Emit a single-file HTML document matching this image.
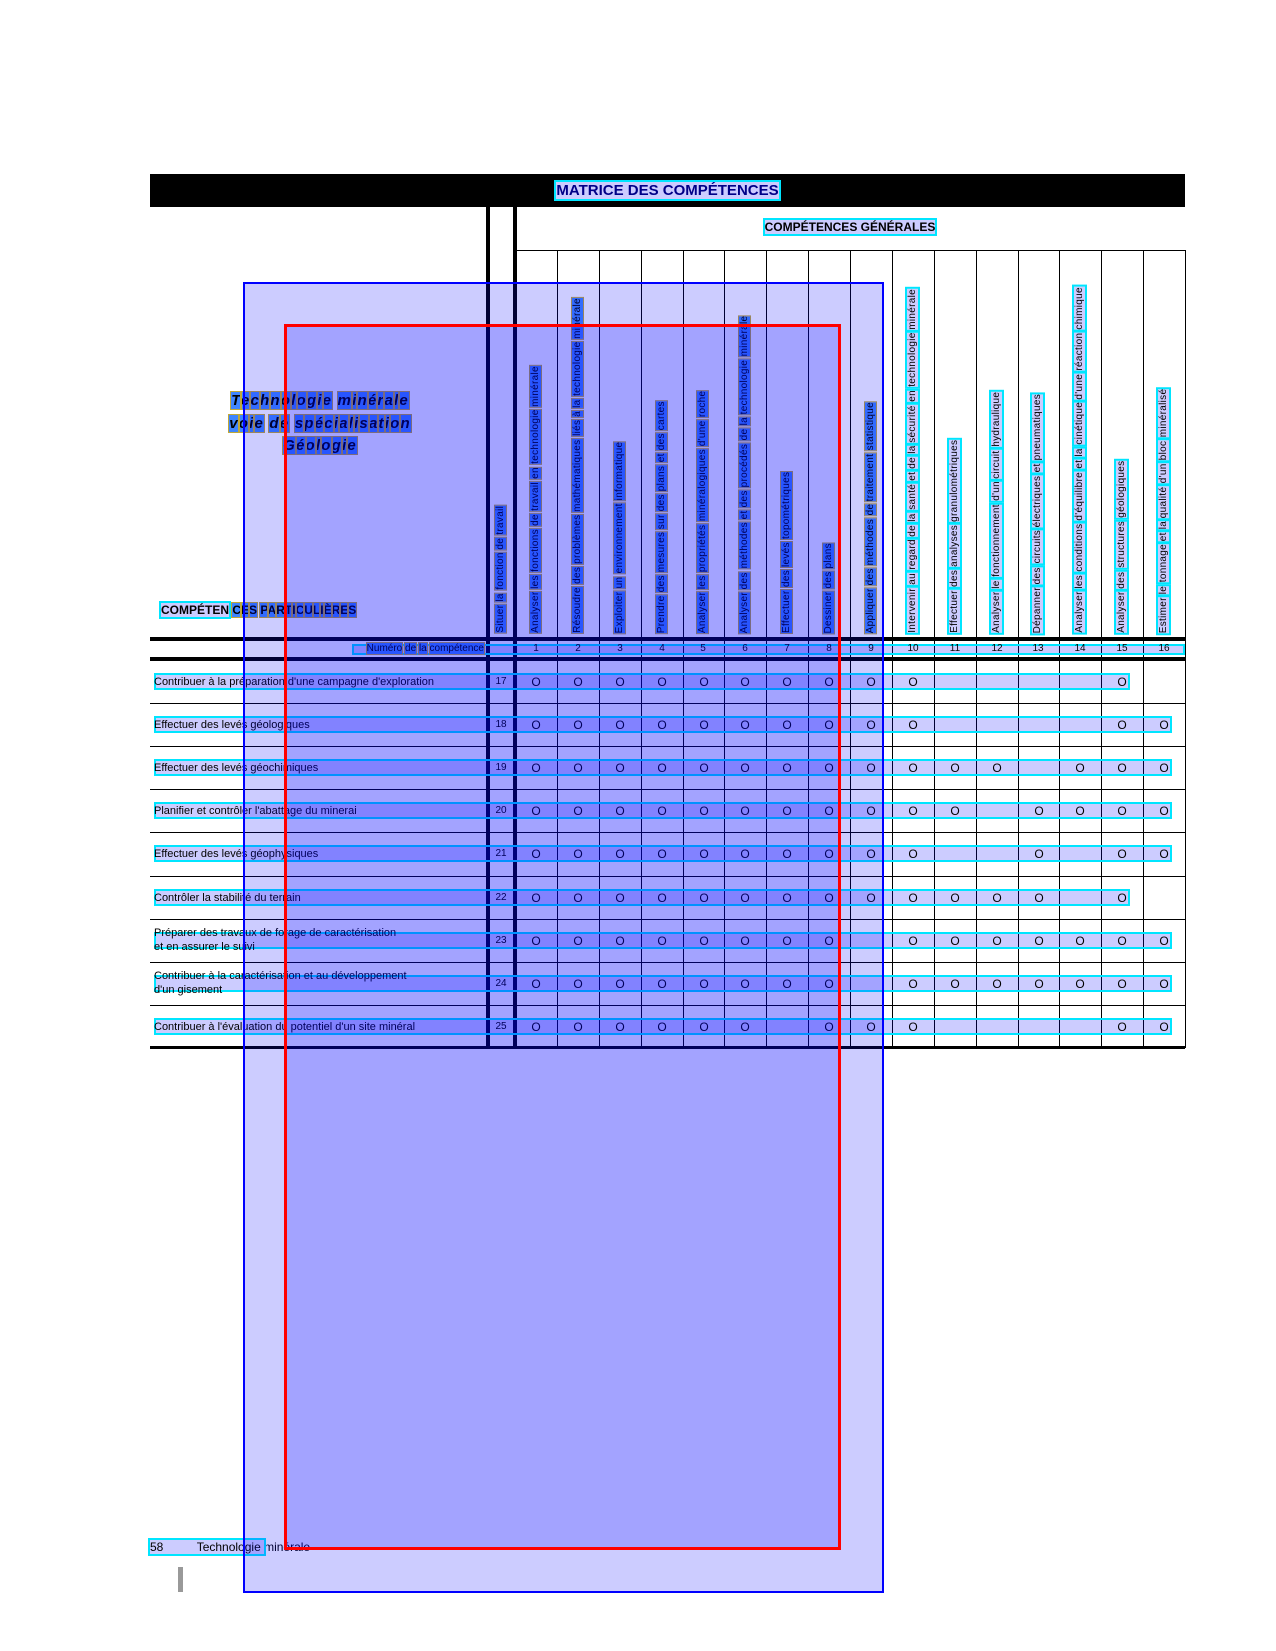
<!DOCTYPE html>
<html><head><meta charset="utf-8">
<style>
*{margin:0;padding:0;box-sizing:border-box}
body{width:1276px;height:1651px;background:#fff;position:relative;overflow:hidden;font-family:"Liberation Sans",sans-serif;color:#000}
.a{position:absolute}
.hl{position:absolute;background:#000}
.vl{position:absolute;background:#000}
.vh{position:absolute;writing-mode:vertical-rl;transform:rotate(180deg);font-size:10px;line-height:12px;white-space:nowrap;letter-spacing:0.3px}
.num{position:absolute;font-size:10px;width:42px;text-align:center;line-height:12px}
.o{position:absolute;font-size:12px;width:42px;text-align:center;line-height:14px}
.rt{position:absolute;left:154px;font-size:11px;line-height:14px;white-space:nowrap}
.band{position:absolute;border:2px solid #00e5ff;background:rgba(0,0,255,0.2)}
.w{background:#3f86ff;outline:1px solid #c0a838}
.c{outline:2px solid #00e5ff;background:#ccccff}
</style></head><body>

<div class="a" style="left:150px;top:174px;width:1035px;height:33px;background:#000"></div>
<div class="a" style="left:150px;top:182px;width:1035px;text-align:center;color:#fff;font-weight:bold;font-size:15px;line-height:17px"><span style="outline:2px solid #00e5ff;background:#ccccff;color:#000088">MATRICE DES COMPÉTENCES</span></div>

<div class="a" style="left:515px;top:220px;width:670px;text-align:center;font-weight:bold;font-size:12px;line-height:14px"><span class="c">COMPÉTENCES GÉNÉRALES</span></div>
<div class="hl" style="left:515px;top:250px;width:670px;height:1px"></div>

<div class="vl" style="left:486px;top:207px;width:4px;height:841px"></div>
<div class="vl" style="left:513px;top:207px;width:4px;height:841px"></div>

<div id="cols"></div>

<div class="hl" style="left:150px;top:637px;width:1035px;height:4px"></div>
<div class="hl" style="left:150px;top:657px;width:1035px;height:4px"></div>
<div class="hl" style="left:150px;top:1046px;width:1035px;height:3px"></div>
<div id="rows"></div>

<div class="a" id="ttl" style="left:190px;top:390px;width:260px;text-align:center;font-style:italic;font-weight:bold;font-size:15px;line-height:22.5px;letter-spacing:1.2px">Technologie minérale<br>voie de spécialisation<br>Géologie</div>
<div class="a" style="left:161px;top:603px;font-weight:bold;font-size:12px;line-height:14px"><span class="c">COMPÉTEN</span><span id="cp">CES PARTICULIÈRES</span></div>

<div class="band" style="left:352px;top:644px;width:833px;height:11px;border-width:2px"></div>
<div class="a" style="left:250px;top:643px;width:234px;text-align:right;font-size:10px;line-height:12px" id="nlab">Numéro de la compétence</div>

<div id="hdr"></div>
<div id="cells"></div>

<div class="a" style="left:150px;top:1540px;font-size:12px;line-height:14px"><span style="outline:2px solid #00e5ff;background:#ccccff">58&nbsp;&nbsp;&nbsp;&nbsp;&nbsp;&nbsp;&nbsp;&nbsp;&nbsp;&nbsp;Technologie </span>minérale</div>
<div class="a" style="left:178px;top:1567px;width:5px;height:25px;background:#999"></div>

<div class="a" style="left:243px;top:282px;width:641px;height:1311px;border:2px solid #0000ff;background:rgba(0,0,255,0.2)"></div>
<div class="a" style="left:284px;top:324px;width:557px;height:1226px;border:3px solid #ff0000;background:rgba(0,0,255,0.2)"></div>

<script>
var X0=515,CW=41.875;
var h='';
for(var i=1;i<=16;i++){var x=Math.round(X0+i*CW);h+='<div class="vl" style="left:'+x+'px;top:250px;width:1px;height:798px"></div>';}
document.getElementById('cols').innerHTML=h;
var R0=682,RP=43.1;h='';
for(var r=1;r<9;r++){var y=Math.round(660+r*RP);h+='<div class="hl" style="left:150px;top:'+y+'px;width:1035px;height:1px"></div>';}
document.getElementById('rows').innerHTML=h;
function wrap(t,cls){return t.split(' ').map(function(w){return '<span class="'+cls+'">'+w+'</span>'}).join(' ');}
var heads=["Situer la fonction de travail","Analyser les fonctions de travail en technologie minérale","Résoudre des problèmes mathématiques liés à la technologie minérale","Exploiter un environnement informatique","Prendre des mesures sur des plans et des cartes","Analyser les propriétés minéralogiques d'une roche","Analyser des méthodes et des procédés de la technologie minérale","Effectuer des levés topométriques","Dessiner des plans","Appliquer des méthodes de traitement statistique","Intervenir au regard de la santé et de la sécurité en technologie minérale","Effectuer des analyses granulométriques","Analyser le fonctionnement d'un circuit hydraulique","Dépanner des circuits électriques et pneumatiques","Analyser les conditions d'équilibre et la cinétique d'une réaction chimique","Analyser des structures géologiques","Estimer le tonnage et la qualité d'un bloc minéralisé"];
h='';
for(var i=0;i<17;i++){var cx=i==0?501:X0+(i-0.5)*CW;h+='<div class="vh" style="left:'+Math.round(cx-6)+'px;bottom:'+(1651-633)+'px">'+wrap(heads[i],i<=9?'w':'c')+'</div>';
if(i>0)h+='<div class="num" style="left:'+Math.round(cx-21)+'px;top:643px">'+i+'</div>';}
document.getElementById('hdr').innerHTML=h;
document.getElementById('nlab').innerHTML=wrap("Numéro de la compétence","w");
document.getElementById('cp').innerHTML=" "+"CES PARTICULIÈRES".split('').map(function(c){return c==' '?' ':'<span class="w">'+c+'</span>'}).join('');
var t=document.getElementById('ttl');
t.innerHTML=t.innerHTML.split('<br>').map(function(l){return l.split('').map(function(c){return c==' '?' ':'<span class="w">'+c+'</span>'}).join('')}).join('<br>');
var rows=[
["Contribuer à la préparation d'une campagne d'exploration",17,[1,2,3,4,5,6,7,8,9,10,15]],
["Effectuer des levés géologiques",18,[1,2,3,4,5,6,7,8,9,10,15,16]],
["Effectuer des levés géochimiques",19,[1,2,3,4,5,6,7,8,9,10,11,12,14,15,16]],
["Planifier et contrôler l'abattage du minerai",20,[1,2,3,4,5,6,7,8,9,10,11,13,14,15,16]],
["Effectuer des levés géophysiques",21,[1,2,3,4,5,6,7,8,9,10,13,15,16]],
["Contrôler la stabilité du terrain",22,[1,2,3,4,5,6,7,8,9,10,11,12,13,15]],
["Préparer des travaux de forage de caractérisation<br>et en assurer le suivi",23,[1,2,3,4,5,6,7,8,10,11,12,13,14,15,16]],
["Contribuer à la caractérisation et au développement<br>d'un gisement",24,[1,2,3,4,5,6,7,8,10,11,12,13,14,15,16]],
["Contribuer à l'évaluation du potentiel d'un site minéral",25,[1,2,3,4,5,6,8,9,10,15,16]]];
h='';
for(var r=0;r<rows.length;r++){var cy=R0+r*RP;var two=rows[r][0].indexOf('<br>')>=0;
var last=rows[r][2][rows[r][2].length-1];var ex=Math.round(X0+(last-0.5)*CW+8);
h+='<div class="band" style="left:154px;top:'+Math.round(cy-9)+'px;width:'+(ex-154)+'px;height:17px"></div>';
h+='<div class="rt" style="top:'+Math.round(two?cy-15:cy-7)+'px">'+rows[r][0]+'</div>';
h+='<div class="num" style="left:480px;top:'+Math.round(cy-6)+'px">'+rows[r][1]+'</div>';
rows[r][2].forEach(function(c){h+='<div class="o" style="left:'+Math.round(X0+(c-1)*CW)+'px;top:'+Math.round(cy-7)+'px">O</div>';});}
document.getElementById('cells').innerHTML=h;
</script>
</body></html>
